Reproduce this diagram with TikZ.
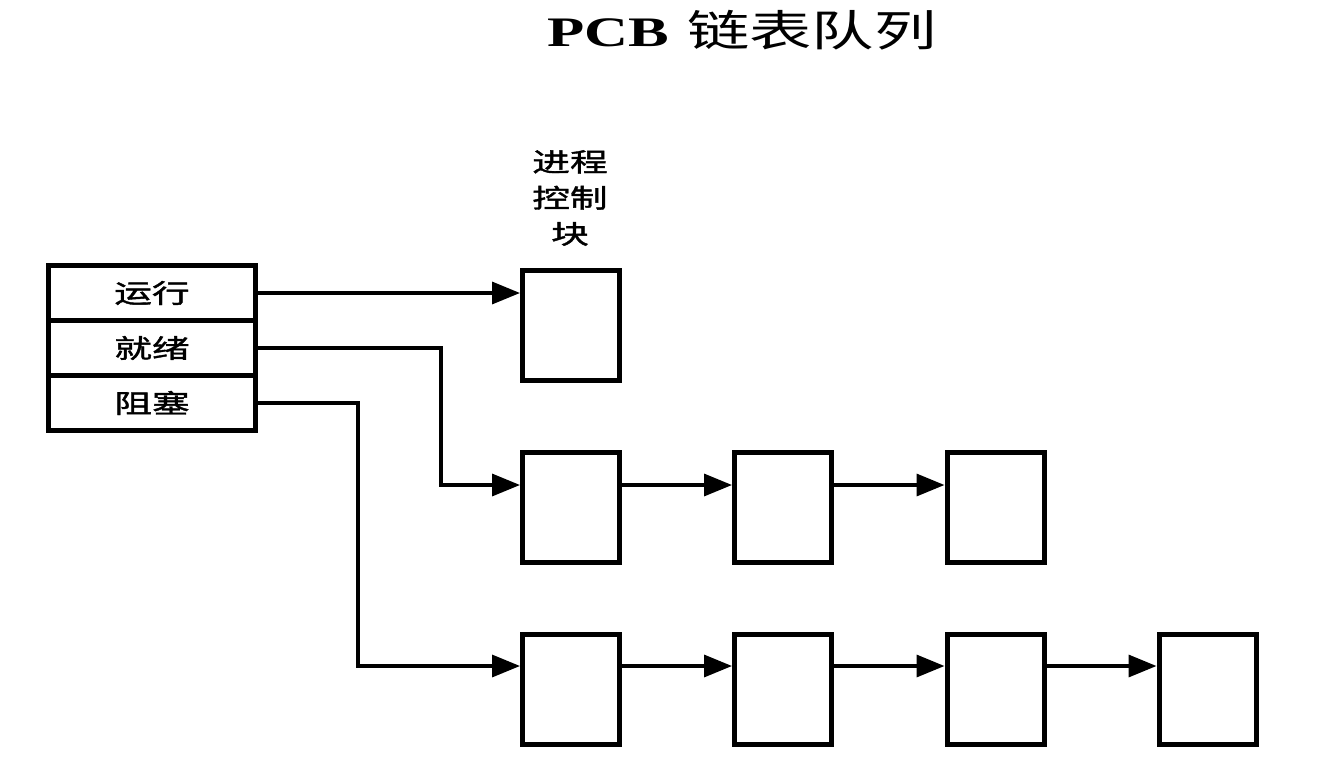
\documentclass[tikz,border=0pt]{standalone}
\usepackage{fontspec}
\setmainfont{Liberation Serif}
\newfontfamily\cjkw[FakeStretch=1.45]{Noto Sans CJK SC}
\newfontfamily\cjkm[FakeStretch=1.45,FakeBold=1.5]{Noto Sans CJK SC}
\newfontfamily\serw[FakeStretch=1.45]{Liberation Serif}
\usetikzlibrary{arrows.meta}
\begin{document}
\begin{tikzpicture}[x=1pt,y=-1pt,
  pcb/.style={draw, line width=5pt, minimum width=97pt, minimum height=110pt, inner sep=0pt},
  cell/.style={draw, line width=5pt, minimum width=207pt, minimum height=55pt, inner sep=0pt,
    font=\cjkm\fontsize{26}{30}\selectfont},
  arr/.style={line width=3.4pt, line join=miter, -{Triangle[length=28pt,width=22pt]}},
  lbl/.style={align=center, inner sep=0pt, font=\cjkm\fontsize{26}{36}\selectfont}
]
\useasboundingbox (0,0) rectangle (1321,779);
\fill[white] (0,0) rectangle (1321,779);

% title
\node[inner sep=0pt] (title) at (742,30)
  {{\serw\bfseries\fontsize{42}{42}\selectfont PCB}\hspace{18pt}{\cjkw\fontsize{43}{43}\selectfont 链表队列}};

% state table
\node[cell] (r1) at (152,293) {运行};
\node[cell] (r2) at (152,348) {就绪};
\node[cell] (r3) at (152,403) {阻塞};

% label
\node[lbl] (lab) at (570,198) {进程\\控制\\块};

% PCB boxes
\node[pcb] (b1)  at (571,325.5) {};
\node[pcb] (b2a) at (571,507.5) {};
\node[pcb] (b2b) at (783,507.5) {};
\node[pcb] (b2c) at (995.5,507.5) {};
\node[pcb] (b3a) at (571,689) {};
\node[pcb] (b3b) at (783,689) {};
\node[pcb] (b3c) at (995.5,689) {};
\node[pcb] (b3d) at (1207.5,689) {};

\coordinate (k2) at (441,0);
\coordinate (k3) at (358,0);
\coordinate (t2) at ([yshift=22.5pt]b2a.west);
\coordinate (t3) at ([yshift=23pt]b3a.west);

% connectors
\draw[arr] (r1.east) -- (r1.east -| b1.west);
\draw[arr] (r2.east) -- (r2.east -| k2) -- (k2 |- t2) -- (t2);
\draw[arr] (r3.east) -- (r3.east -| k3) -- (k3 |- t3) -- (t3);

\draw[arr] ([yshift=22.5pt]b2a.east) -- ([yshift=22.5pt]b2b.west);
\draw[arr] ([yshift=22.5pt]b2b.east) -- ([yshift=22.5pt]b2c.west);

\draw[arr] ([yshift=23pt]b3a.east) -- ([yshift=23pt]b3b.west);
\draw[arr] ([yshift=23pt]b3b.east) -- ([yshift=23pt]b3c.west);
\draw[arr] ([yshift=23pt]b3c.east) -- ([yshift=23pt]b3d.west);
\end{tikzpicture}
\end{document}
